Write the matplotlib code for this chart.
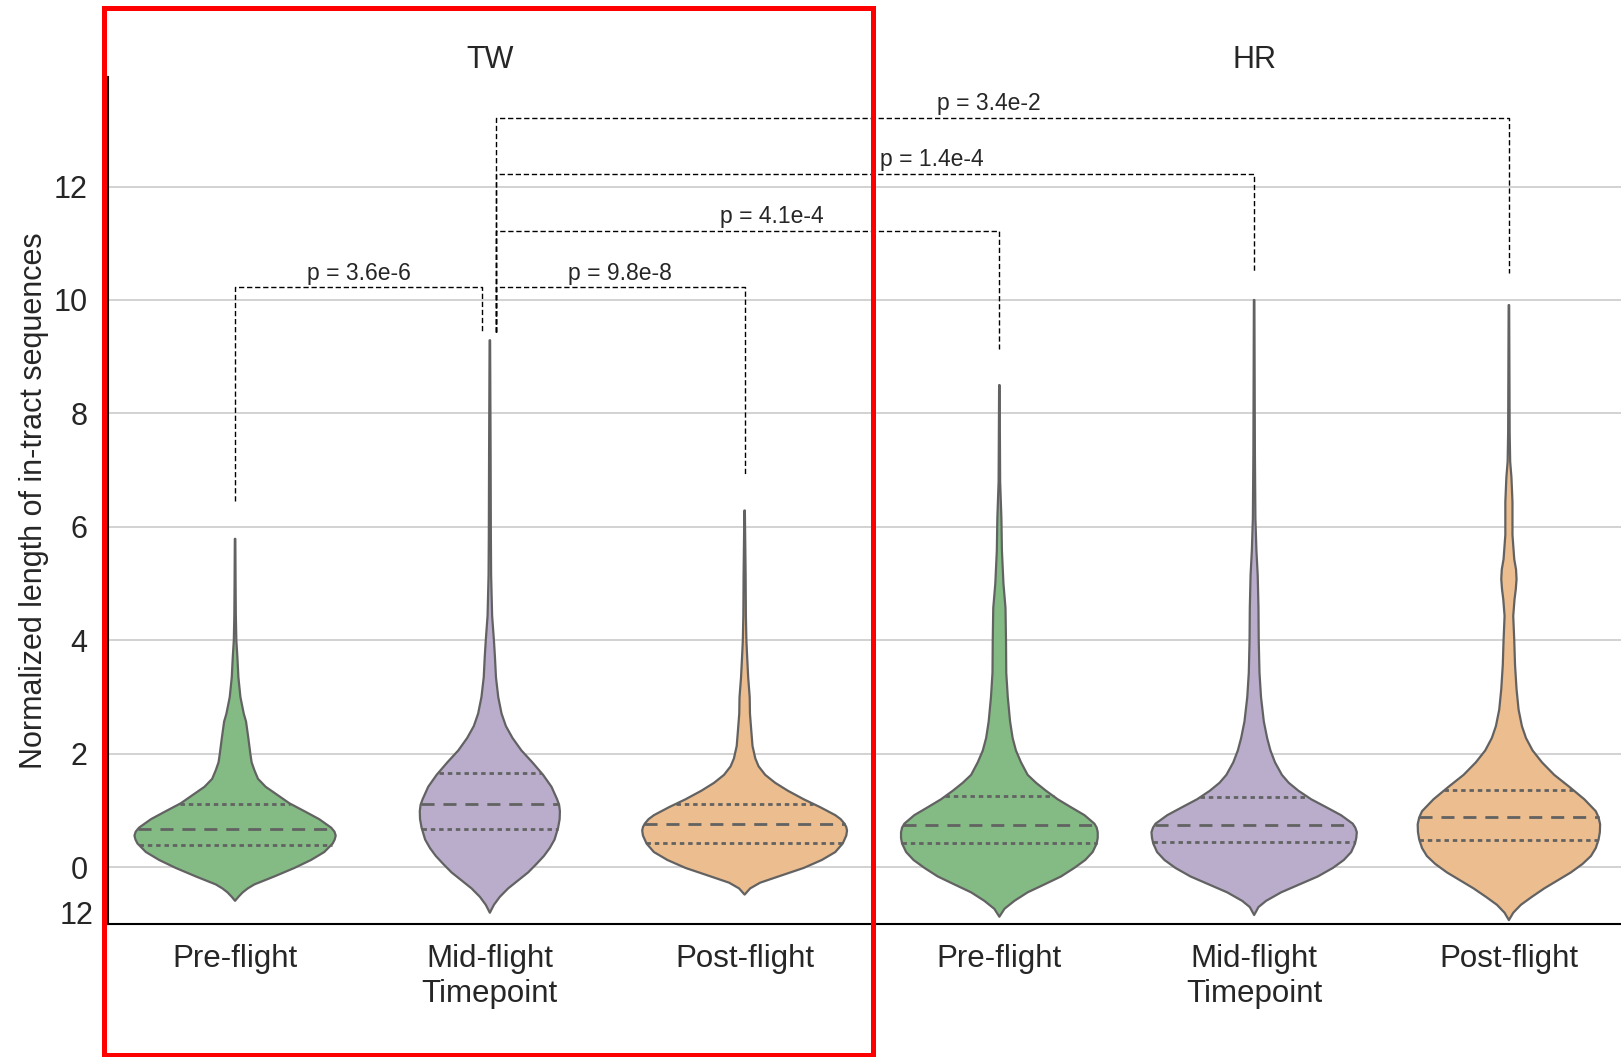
import numpy as np
import matplotlib
matplotlib.use('Agg')
import matplotlib.pyplot as plt
from matplotlib.patches import Rectangle

plt.rcParams['font.family'] = ['Liberation Sans', 'DejaVu Sans']

# groups along the x axis: TW (0-2) and HR (3-5)
timepoints = ['Pre-flight', 'Mid-flight\nTimepoint', 'Post-flight',
              'Pre-flight', 'Mid-flight\nTimepoint', 'Post-flight']
groups = ['TW', 'HR']
group_centres = [1, 4]
colours = ['#84bb85', '#b9adcb', '#ecbd8e', '#84bb85', '#b9adcb', '#ecbd8e']

# violin outlines: y value and half width of the density at that y
tw_pre_y = [-0.59, -0.52, -0.44, -0.37, -0.30, -0.23, -0.16, -0.01, 0.13, 0.27, 0.42, 0.49, 0.56,
            0.63, 0.70, 0.85, 0.99, 1.13, 1.28, 1.42, 1.56, 1.71, 1.85, 2.0, 2.28, 2.57, 2.71,
            3.0, 3.35, 3.71, 4.0, 4.43, 5.0, 5.79]
tw_pre_w = [0.0, 0.013, 0.03, 0.05, 0.076, 0.115, 0.154, 0.233, 0.298, 0.35, 0.383, 0.391, 0.395,
            0.39, 0.377, 0.33, 0.272, 0.213, 0.165, 0.12, 0.09, 0.076, 0.065, 0.06, 0.052, 0.043,
            0.034, 0.021, 0.013, 0.009, 0.005, 0.003, 0.002, 0.001]

tw_mid_y = [-0.80, -0.66, -0.52, -0.37, -0.23, -0.09, 0.06, 0.20, 0.34, 0.49, 0.70, 0.85, 0.99,
            1.10, 1.20, 1.42, 1.63, 1.85, 2.06, 2.28, 2.49, 2.71, 3.0, 3.35, 3.71, 4.0, 4.43,
            5.15, 5.86, 7.3, 9.29]
tw_mid_w = [0.0, 0.016, 0.039, 0.072, 0.111, 0.15, 0.183, 0.212, 0.235, 0.254, 0.268, 0.274,
            0.275, 0.272, 0.264, 0.242, 0.209, 0.167, 0.124, 0.089, 0.063, 0.046, 0.033, 0.024,
            0.02, 0.016, 0.009, 0.005, 0.004, 0.003, 0.001]

tw_post_y = [-0.48, -0.37, -0.27, -0.16, -0.01, 0.13, 0.27, 0.42, 0.56, 0.65, 0.71, 0.77, 0.85,
             0.92, 1.06, 1.20, 1.35, 1.49, 1.63, 1.78, 1.92, 2.14, 2.42, 2.71, 3.0, 3.35, 3.71,
             4.0, 4.43, 5.15, 6.29]
tw_post_w = [0.0, 0.022, 0.061, 0.133, 0.232, 0.303, 0.356, 0.385, 0.399, 0.402, 0.399, 0.392,
             0.377, 0.356, 0.297, 0.232, 0.17, 0.12, 0.081, 0.055, 0.042, 0.031, 0.026, 0.021,
             0.02, 0.014, 0.01, 0.007, 0.005, 0.004, 0.001]

hr_pre_y = [-0.87, -0.73, -0.59, -0.44, -0.30, -0.16, -0.01, 0.13, 0.27, 0.42, 0.52, 0.62, 0.70,
            0.77, 0.92, 1.06, 1.20, 1.35, 1.49, 1.63, 1.85, 2.06, 2.28, 2.57, 3.0, 3.43, 4.0,
            4.57, 5.0, 5.58, 6.15, 6.8, 8.5]
hr_pre_w = [0.0, 0.02, 0.059, 0.111, 0.177, 0.242, 0.294, 0.337, 0.366, 0.382, 0.386, 0.386,
            0.382, 0.373, 0.334, 0.281, 0.229, 0.183, 0.144, 0.111, 0.085, 0.065, 0.052, 0.042,
            0.033, 0.027, 0.026, 0.024, 0.016, 0.01, 0.008, 0.003, 0.001]

hr_mid_y = [-0.84, -0.70, -0.59, -0.44, -0.30, -0.16, -0.01, 0.13, 0.27, 0.42, 0.52, 0.62, 0.70,
            0.77, 0.92, 1.06, 1.20, 1.35, 1.49, 1.63, 1.85, 2.06, 2.28, 2.57, 3.0, 3.43, 4.0,
            4.57, 5.15, 5.58, 6.15, 7.3, 10.0]
hr_mid_w = [0.0, 0.017, 0.047, 0.106, 0.178, 0.25, 0.309, 0.352, 0.381, 0.396, 0.401, 0.403,
            0.397, 0.387, 0.341, 0.283, 0.224, 0.174, 0.136, 0.109, 0.082, 0.064, 0.051, 0.038,
            0.027, 0.021, 0.018, 0.017, 0.014, 0.009, 0.005, 0.003, 0.001]

hr_post_y = [-0.93, -0.80, -0.66, -0.52, -0.37, -0.23, -0.09, 0.06, 0.20, 0.34, 0.49, 0.62, 0.76,
             0.88, 0.99, 1.20, 1.42, 1.63, 1.85, 2.06, 2.28, 2.49, 2.78, 3.14, 3.57, 4.0, 4.43,
             4.72, 4.9, 5.08, 5.25, 5.43, 5.86, 6.44, 6.87, 7.15, 7.66, 9.91]
hr_post_w = [0.0, 0.017, 0.047, 0.09, 0.139, 0.191, 0.243, 0.289, 0.322, 0.341, 0.352, 0.357,
             0.358, 0.352, 0.341, 0.296, 0.237, 0.178, 0.13, 0.093, 0.067, 0.051, 0.038, 0.03,
             0.024, 0.021, 0.017, 0.022, 0.027, 0.03, 0.028, 0.021, 0.014, 0.014, 0.01, 0.005,
             0.003, 0.001]

# quartiles per violin
q1 = [0.40, 0.68, 0.43, 0.43, 0.44, 0.49]
median = [0.67, 1.12, 0.76, 0.74, 0.75, 0.88]
q3 = [1.12, 1.67, 1.12, 1.25, 1.24, 1.36]

# significance brackets
p_labels = ['p = 3.6e-6', 'p = 9.8e-8', 'p = 4.1e-4', 'p = 1.4e-4', 'p = 3.4e-2']
br_left = [0.0, 1.024, 1.024, 1.024, 1.024]
br_right = [0.969, 2.0, 3.0, 4.0, 5.0]
br_top = [10.22, 10.22, 11.21, 12.22, 13.21]
br_left_end = [6.45, 9.44, 9.44, 9.44, 9.44]
br_right_end = [9.44, 6.91, 9.14, 10.48, 10.48]
p_label_x = [0.486, 1.51, 2.107, 2.735, 2.957]

outline_y = [tw_pre_y, tw_mid_y, tw_post_y, hr_pre_y, hr_mid_y, hr_post_y]
outline_w = [tw_pre_w, tw_mid_w, tw_post_w, hr_pre_w, hr_mid_w, hr_post_w]

W, H = 1621, 1057
fig = plt.figure(figsize=(W / 100, H / 100), dpi=100)
ax = fig.add_axes([107.7 / W, (H - 924.1) / H, 1 - 107.7 / W, (924.1 - 77) / H])

text_col = '#262626'
edge = '#626262'

for i in range(6):
    y = np.array(outline_y[i])
    w = np.array(outline_w[i])
    ax.fill(np.concatenate([i - w, (i + w)[::-1]]), np.concatenate([y, y[::-1]]),
            facecolor=colours[i], edgecolor=edge, lw=1.6, joinstyle='round', zorder=2)
    # quartile lines stretch across the violin
    for q, ls in [(q1[i], (0, (1.6, 1.4))), (median[i], (0, (4.7, 3.2))), (q3[i], (0, (1.6, 1.4)))]:
        hw = np.interp(q, y, w)
        ax.plot([i - hw, i + hw], [q, q], color=edge, lw=2.0, ls=ls, zorder=3)

for k in range(len(p_labels)):
    ax.plot([br_left[k], br_left[k], br_right[k], br_right[k]],
            [br_left_end[k], br_top[k], br_top[k], br_right_end[k]],
            color='black', lw=1.0, ls=(0, (3.8, 2.0)), zorder=4, clip_on=False)
    ax.text(p_label_x[k], br_top[k] + 0.14, p_labels[k], ha='center', va='baseline',
            fontsize=16.5, color=text_col)

for g, c in zip(groups, group_centres):
    ax.text(c, 14.23, g, ha='center', va='center', fontsize=22, color=text_col, clip_on=False)

ax.set_xlim(-0.5, 5.44)
ax.set_ylim(-1.0, 13.93)
ax.set_yticks(range(0, 13, 2))
ax.set_xticks(range(6))
ax.set_xticklabels(timepoints)
ax.tick_params(axis='both', length=0, labelsize=22, labelcolor=text_col)
ax.tick_params(axis='y', pad=14.4)
ax.tick_params(axis='x', pad=14.5, labelsize=22.5)
ax.yaxis.grid(True, color='#cfcfcf', lw=1.3)
ax.set_axisbelow(True)
ax.text(-0.0095, -0.86, '12', transform=ax.get_yaxis_transform(), ha='right', va='center',
        fontsize=22, color=text_col)

for s in ['top', 'right']:
    ax.spines[s].set_visible(False)
for s in ['left', 'bottom']:
    ax.spines[s].set_color('black')
    ax.spines[s].set_linewidth(1.5)

ax.set_ylabel('Normalized length of in-tract sequences', fontsize=22, color=text_col)
ax.yaxis.set_label_coords(-0.0385, 0.5)

# highlight box around the TW panel
fig.patches.append(Rectangle((104.2 / W, (H - 1055) / H), (873 - 104.2) / W, (1055 - 8.2) / H,
                             transform=fig.transFigure, fill=False, edgecolor='#ff0000',
                             lw=3.6, zorder=10))

fig.savefig('out.png', dpi=100)
